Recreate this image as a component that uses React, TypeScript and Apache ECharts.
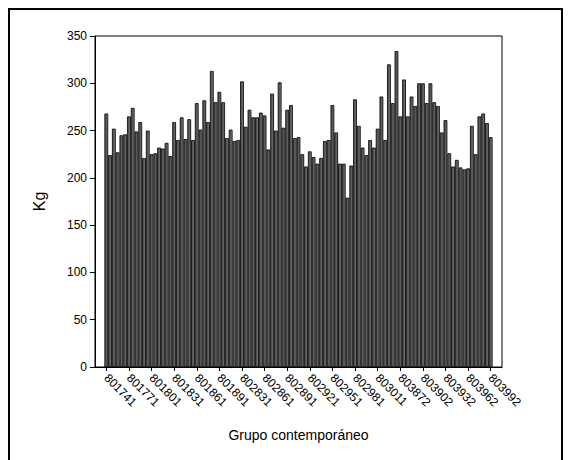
import { useEffect, useRef } from "react";
import * as echarts from "echarts";

const tickLabels = [
  "801741", "801771", "801801", "801831", "801861", "801891",
  "802831", "802861", "802891", "802921", "802951", "802981",
  "803011", "803872", "803902", "803932", "803962", "803992",
];

const values = [
  268, 224, 252, 227, 245, 246, 265, 274, 249, 259, 221, 250, 225, 226, 232, 231, 237, 223, 259, 240, 264, 241, 262, 240, 279,
  251, 282, 259, 313, 280, 291, 280, 242, 251, 239, 240, 302, 254, 272, 264, 264, 269, 266, 230, 289, 250, 301, 253, 272, 277, 242, 243,
  225, 212, 228, 222, 215, 221, 239, 240, 277, 248, 215, 215, 179, 213, 283, 255, 232, 224, 240, 232, 252, 286, 240, 320, 279, 334, 265,
  304, 265, 286, 276, 300, 300, 279, 300, 280, 276, 248, 261, 226, 212, 219, 211, 209, 210, 255, 225, 265, 268, 258, 243,
];

const yMin = 0;
const yMax = 350;
const yStep = 50;
const labelEvery = 6;

export default function App() {
  const ref = useRef<HTMLDivElement>(null);
  useEffect(() => {
    document.body.style.margin = "0";
    const chart = echarts.init(ref.current!, null, { renderer: "svg" });
    const PAD = 3;
    const cats: string[] = [];
    const data: (number | string)[] = [];
    for (let i = -PAD; i < values.length + PAD; i++) {
      const inside = i >= 0 && i < values.length;
      cats.push(inside && i % labelEvery === 0 ? tickLabels[i / labelEvery] : `c${i}`);
      data.push(inside ? values[i] : "-");
    }
    const shown = (idx: number) => {
      const j = idx - PAD;
      return j >= 0 && j < values.length && j % labelEvery === 0;
    };
    const font = "Liberation Sans, Arial, sans-serif";
    chart.setOption({
      animation: false,
      backgroundColor: "#fff",
      grid: {
        left: 95,
        top: 36,
        right: 67,
        bottom: 93,
        show: true,
        borderColor: "#000",
        borderWidth: 1,
        backgroundColor: "transparent",
      },
      xAxis: {
        type: "category",
        data: cats,
        boundaryGap: false,
        name: "Grupo contemporáneo",
        nameLocation: "middle",
        nameGap: 61,
        nameTextStyle: { fontFamily: font, fontSize: 14, color: "#000" },
        axisLine: { lineStyle: { color: "#000", width: 1 } },
        axisTick: { interval: (idx: number) => shown(idx), length: 4, lineStyle: { color: "#000" } },
        axisLabel: {
          interval: (idx: number) => shown(idx),
          rotate: -45,
          margin: 9,
          fontFamily: font,
          fontSize: 12,
          color: "#000",
        },
        splitLine: { show: false },
      },
      yAxis: {
        type: "value",
        min: yMin,
        max: yMax,
        interval: yStep,
        name: "Kg",
        nameLocation: "middle",
        nameGap: 48,
        nameRotate: 90,
        nameTextStyle: { fontFamily: font, fontSize: 16, color: "#000" },
        axisLine: { show: true, lineStyle: { color: "#000", width: 1 } },
        axisTick: { show: true, length: 5, lineStyle: { color: "#000" } },
        axisLabel: { fontFamily: font, fontSize: 12, color: "#000", margin: 8 },
        splitLine: { show: false },
      },
      series: [
        {
          type: "bar",
          data,
          barCategoryGap: "0%",
          barWidth: "100%",
          itemStyle: {
            color: {
              type: "linear",
              x: 0, y: 0, x2: 1, y2: 0,
              colorStops: [
                { offset: 0, color: "#505050" },
                { offset: 0.55, color: "#5a5a5a" },
                { offset: 0.8, color: "#787878" },
                { offset: 1, color: "#525252" },
              ],
            },
            borderColor: "#000",
            borderWidth: 0.8,
          },
        },
      ],
    });
    return () => chart.dispose();
  }, []);
  return (
    <div style={{ position: "relative", width: 569, height: 460, overflow: "hidden", background: "#fff" }}>
      <div ref={ref} style={{ position: "absolute", left: 0, top: 0, width: 569, height: 460 }} />
      <div
        style={{
          position: "absolute",
          left: 8,
          top: 8,
          width: 555,
          height: 460,
          border: "2px solid #000",
          borderBottom: "none",
          boxSizing: "border-box",
          pointerEvents: "none",
        }}
      />
    </div>
  );
}
